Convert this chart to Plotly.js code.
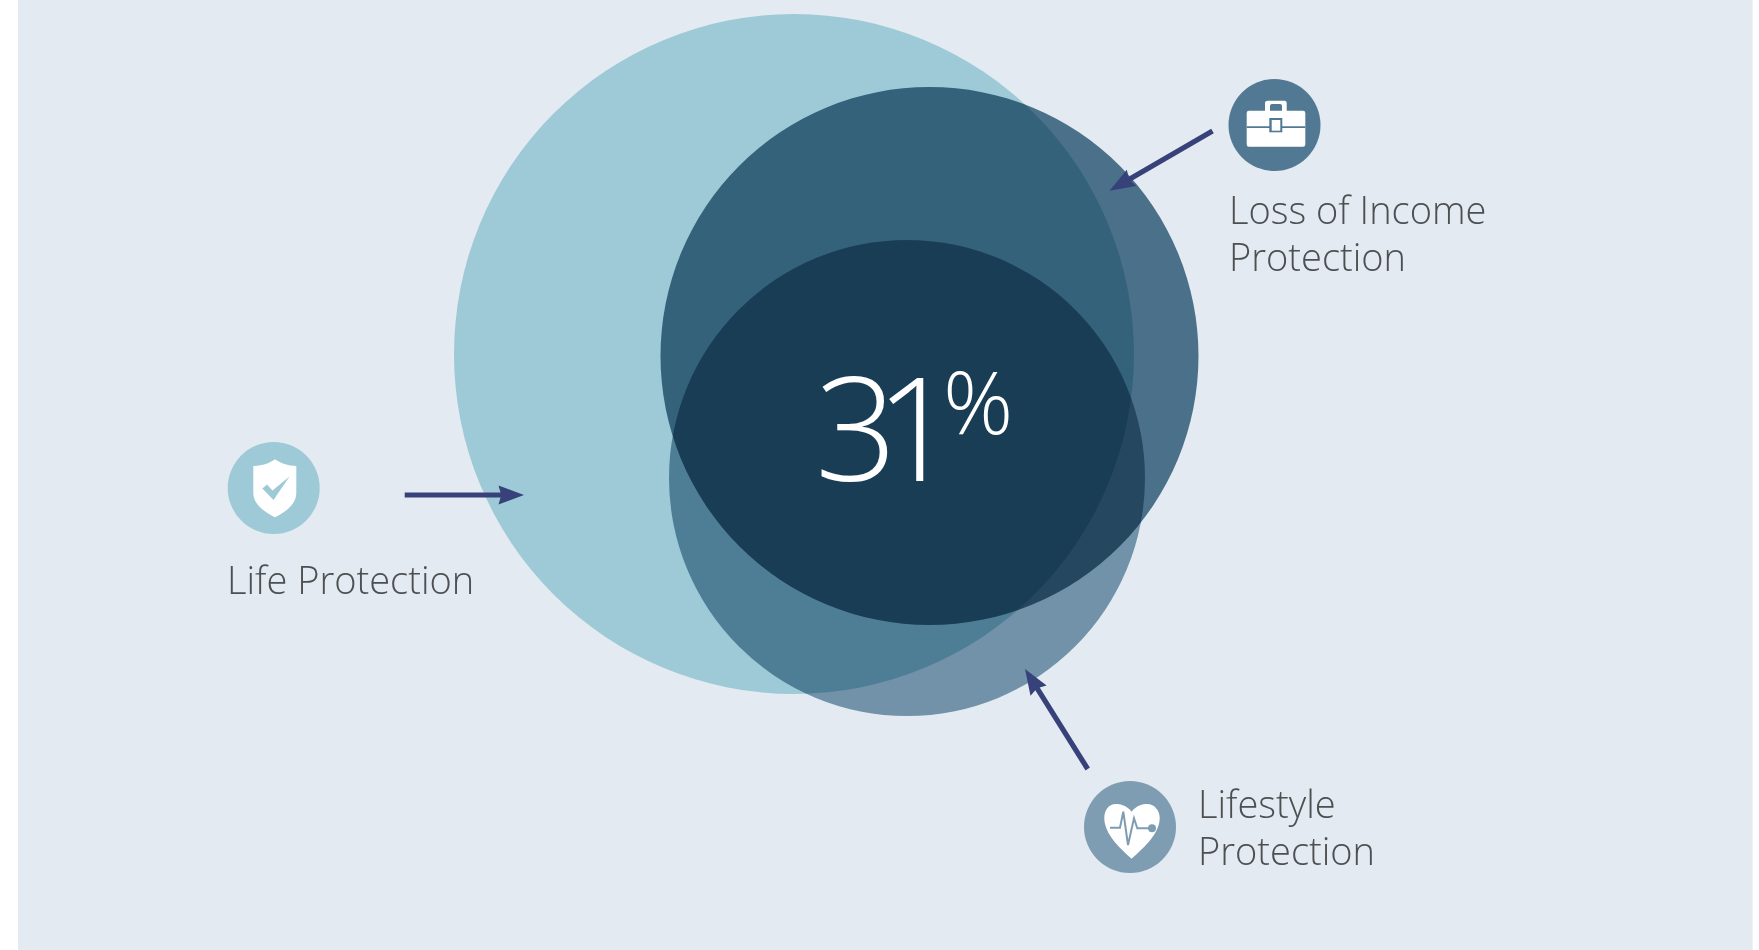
<!DOCTYPE html>
<html>
<head>
<meta charset="utf-8">
<script src="https://cdn.plot.ly/plotly-3.0.1.min.js"></script>
<style>
html,body{margin:0;padding:0;background:#fff;overflow:hidden}
#chart{width:1759px;height:950px}
/* tighter digit pitch for the large figure */
.annotation[data-index="5"] text{letter-spacing:-22px}
</style>
</head>
<body>
<div id="chart"></div>
<script>
// Protection types and the share holding all three
const coverLabelLines = ['Life Protection', 'Loss of Income', 'Protection', 'Lifestyle', 'Protection'];
const coverRadii = [340, 269, 238];
const coverColors = ['#9dcad6', '#547b92', '#7f9fb2'];
const coverCentresX = [794, 929.5, 907];
const coverCentresY = [354, 356, 478];
const overlapShare = [31];
const overlapUnit = ['%'];

const iconCentresX = [273.7, 1274.5, 1130];
const iconCentresY = [488, 125, 827];
const iconColors = ['#9dcad6', '#527993', '#7f9db2'];
const iconRadius = 46;

const arrowStartX = [404.7, 1212.5, 1087.7];
const arrowStartY = [495, 131, 769];
const arrowTipX = [524, 1109.5, 1025];
const arrowTipY = [495, 190.7, 669];

const labelX = [226, 1228, 1228, 1197, 1197];
const labelY = [579, 208.5, 255.5, 803, 850];

const FONT = '"Open Sans", sans-serif';
const ARROW = '#364279';
const PANEL = '#e3eaf1';

function circle(cx, cy, r, color) {
  return {type: 'circle', xref: 'x', yref: 'y', x0: cx - r, x1: cx + r, y0: cy - r, y1: cy + r,
          fillcolor: color, line: {width: 0}, layer: 'below'};
}
function path(d, fill, stroke, width) {
  return {type: 'path', xref: 'x', yref: 'y', path: d, fillcolor: fill || 'rgba(0,0,0,0)',
          line: {width: width || 0, color: stroke || 'rgba(0,0,0,0)'}, layer: 'below'};
}
function arrow(x0, y0, x1, y1) {
  const len = Math.hypot(x1 - x0, y1 - y0), ux = (x1 - x0) / len, uy = (y1 - y0) / len;
  const nx = -uy, ny = ux, head = 25.5, half = 9.5, notch = 23.5, w = 2.6;
  const bx = x1 - ux * head, by = y1 - uy * head, sx = x1 - ux * notch, sy = y1 - uy * notch;
  const p = (x, y) => x.toFixed(1) + ',' + y.toFixed(1);
  return path('M' + p(x0 + nx * w, y0 + ny * w) + ' L' + p(sx + nx * w, sy + ny * w) +
    ' L' + p(bx + nx * half, by + ny * half) + ' L' + p(x1, y1) +
    ' L' + p(bx - nx * half, by - ny * half) + ' L' + p(sx - nx * w, sy - ny * w) +
    ' L' + p(x0 - nx * w, y0 - ny * w) + ' Z', ARROW);
}

const shapes = [
  {type: 'rect', xref: 'x', yref: 'y', x0: 18, x1: 1752.6, y0: 0, y1: 950, fillcolor: PANEL, line: {width: 0}, layer: 'below'}
];
coverRadii.forEach((r, i) => shapes.push(circle(coverCentresX[i], coverCentresY[i], r, coverColors[i])));
iconColors.forEach((c, i) => shapes.push(circle(iconCentresX[i], iconCentresY[i], iconRadius, c)));
arrowTipX.forEach((x, i) => shapes.push(arrow(arrowStartX[i], arrowStartY[i], x, arrowTipY[i])));

// shield with tick
shapes.push(path('M275,459.3 C270,463 262,466 253.3,466 L253.3,493 C253.3,505 266,513 275,517.3 C284,513 296.3,505 296.3,493 L296.3,466 C288,466 280,463 275,459.3 Z', '#ffffff'));
shapes.push(path('M262.3,488.5 L267,484.5 L272.5,490.5 L289.5,476.5 L273.5,500 Z', iconColors[0]));

// briefcase
shapes.push(path('M1265,110.7 L1265,103 Q1265,100.7 1267.5,100.7 L1284.5,100.7 Q1286.7,100.7 1286.7,103 L1286.7,110.7 L1303,110.7 Q1305.3,110.7 1305.3,113 L1305.3,144.5 Q1305.3,146.7 1303,146.7 L1249,146.7 Q1246.7,146.7 1246.7,144.5 L1246.7,113 Q1246.7,110.7 1249,110.7 Z', '#ffffff'));
shapes.push(path('M1270,110.7 L1270,106 Q1270,104 1272,104 L1280,104 Q1282,104 1282,106 L1282,110.7 Z', iconColors[1]));
shapes.push(path('M1246.7,126.2 L1305.3,126.2 L1305.3,128 L1246.7,128 Z', iconColors[1]));
shapes.push(path('M1269.3,118 L1282.3,118 L1282.3,132.3 L1269.3,132.3 Z', iconColors[1]));
shapes.push(path('M1271.7,120 L1280.3,120 L1280.3,130.7 L1271.7,130.7 Z', '#ffffff'));

// heart with pulse trace
shapes.push(path('M1131.7,811.7 C1127,805.5 1120,804 1116,804 C1108,804 1104.3,811 1104.3,818 C1104.3,835 1122,850 1131.7,858.7 C1141,850 1159.7,835 1159.7,818 C1159.7,811 1155,804 1147,804 C1143,804 1136,805.5 1131.7,811.7 Z', '#ffffff'));
shapes.push(path('M1110,827.7 L1120,827.7 L1123.3,811.7 L1128,845 L1134,818.3 L1137.3,828.3 L1152,828.3', null, iconColors[2], 2));
shapes.push(circle(1152, 828.3, 4, iconColors[2]));

const annotations = coverLabelLines.map((t, i) => ({
  xref: 'x', yref: 'y', x: labelX[i], y: labelY[i], text: t, showarrow: false,
  xanchor: 'left', yanchor: 'middle', align: 'left', borderpad: 0,
  font: {family: FONT, size: 38, weight: 300, color: '#4d4f51'}
}));
annotations.push({xref: 'x', yref: 'y', x: 792, y: 425, text: String(overlapShare[0]), showarrow: false,
  xanchor: 'left', yanchor: 'middle', borderpad: 0, font: {family: FONT, size: 144, weight: 300, color: '#ffffff'}});
annotations.push({xref: 'x', yref: 'y', x: 941.5, y: 400, text: overlapUnit[0], showarrow: false,
  xanchor: 'left', yanchor: 'middle', borderpad: 0, font: {family: FONT, size: 87, weight: 300, color: '#ffffff'}});

const layout = {
  width: 1759, height: 950,
  margin: {l: 0, r: 0, t: 0, b: 0},
  paper_bgcolor: '#ffffff', plot_bgcolor: '#ffffff',
  showlegend: false,
  xaxis: {range: [0, 1759], visible: false, fixedrange: true},
  yaxis: {range: [950, 0], visible: false, fixedrange: true},
  shapes, annotations
};
Plotly.newPlot('chart', [], layout, {displayModeBar: false, staticPlot: true}).then(gd => {
  // the cover circles darken each other where they overlap
  [2, 3].forEach(i => {
    const node = gd.querySelector('.shapelayer path[data-index="' + i + '"]');
    if (node) node.parentNode.style.mixBlendMode = 'multiply';
  });
});
</script>
</body>
</html>
